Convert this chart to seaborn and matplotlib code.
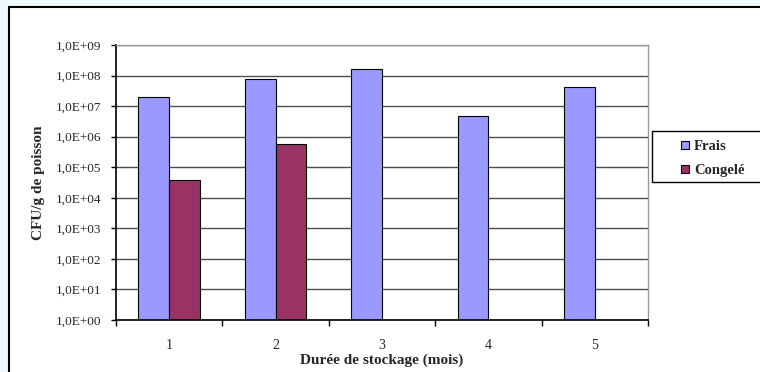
import matplotlib.pyplot as plt
import numpy as np
import pandas as pd
import seaborn as sns
from matplotlib.lines import Line2D
from matplotlib.patches import Rectangle
from matplotlib.ticker import FixedLocator, NullLocator

months = ["1", "2", "3", "4", "5"]
frais = [2.0e7, 7.5e7, 1.7e8, 4.6e6, 4.3e7]
congele = [3.8e4, 5.8e5, np.nan, np.nan, np.nan]
series_names = ["Frais", "Congelé"]
series_colors = ["#9999FF", "#993366"]
y_ticks = [1e0, 1e1, 1e2, 1e3, 1e4, 1e5, 1e6, 1e7, 1e8, 1e9]
y_tick_labels = ["1,0E+00", "1,0E+01", "1,0E+02", "1,0E+03", "1,0E+04",
                 "1,0E+05", "1,0E+06", "1,0E+07", "1,0E+08", "1,0E+09"]

df = pd.DataFrame({
    "mois": months * 2,
    "cfu": frais + congele,
    "etat": [series_names[0]] * len(months) + [series_names[1]] * len(months),
})

sns.set_theme(style="white")
plt.rcParams["font.family"] = ["Liberation Serif", "DejaVu Serif"]

fig = plt.figure(figsize=(7.6, 3.72), dpi=100, facecolor="#F0F8FF")
W, H = 760, 372

# white chart area with black frame
fig.patches.append(Rectangle((9 / W, -0.05), 1.1, 1 - 7 / H + 0.05, transform=fig.transFigure,
                             facecolor="white", edgecolor="black", linewidth=1.5, zorder=-2))

ax = fig.add_axes([116 / W, 1 - 320 / H, (648 - 116) / W, (320 - 45) / H], zorder=2)
ax.set_facecolor("white")

sns.barplot(data=df, x="mois", y="cfu", hue="etat", hue_order=series_names, order=months,
            palette=series_colors, width=0.58, gap=0, edgecolor="black", linewidth=0.8,
            errorbar=None, legend=False, saturation=1, ax=ax)

ax.set_yscale("log")
ax.set_ylim(1, 1e9)
ax.set_xlim(-0.5, 4.5)
ax.yaxis.set_major_locator(FixedLocator(y_ticks))
ax.yaxis.set_minor_locator(NullLocator())
ax.set_yticklabels(y_tick_labels)
ax.grid(axis="y", color="#4d4d4d", linewidth=1)
ax.set_axisbelow(True)

ax.set_xticks(range(len(months)))
ax.set_xticklabels(months)
ax.xaxis.set_minor_locator(FixedLocator(np.arange(-0.5, len(months), 1)))
ax.tick_params(axis="x", which="major", length=0, pad=14, labelsize=10)
ax.tick_params(axis="x", which="minor", bottom=True, length=4, width=1, color="black", direction="out")
ax.tick_params(axis="y", which="major", left=True, length=3.5, width=1, color="black", pad=7, labelsize=9.5)

for side in ["left", "bottom"]:
    ax.spines[side].set_color("black")
    ax.spines[side].set_linewidth(1.2)
for side in ["top", "right"]:
    ax.spines[side].set_color("#999999")
    ax.spines[side].set_linewidth(1)

ax.set_xlabel("Durée de stockage (mois)", fontsize=11, fontweight="bold")
ax.set_ylabel("CFU/g de poisson", fontsize=11, fontweight="bold")
ax.xaxis.set_label_coords(0.5, (320 - 354) / 275)
ax.yaxis.set_label_coords((45 - 116) / 532, 0.5)

# legend box
fig.patches.append(Rectangle((652 / W, 1 - 182 / H), 0.2, 51 / H, transform=fig.transFigure,
                             facecolor="white", edgecolor="black", linewidth=1, zorder=-1))
handles = [Line2D([], [], marker="s", linestyle="none", markersize=6, markerfacecolor=c,
                  markeredgecolor="black", markeredgewidth=0.8) for c in series_colors]
leg = fig.legend(handles, series_names, loc="center left", bbox_to_anchor=(673 / W, 1 - 158.5 / H),
                 frameon=False, borderpad=0, handlelength=0.7, handletextpad=0.25, labelspacing=0.75,
                 prop={"weight": "bold", "size": 10.5})
leg.set_zorder(5)

fig.savefig("out.png", dpi=100, facecolor=fig.get_facecolor())
